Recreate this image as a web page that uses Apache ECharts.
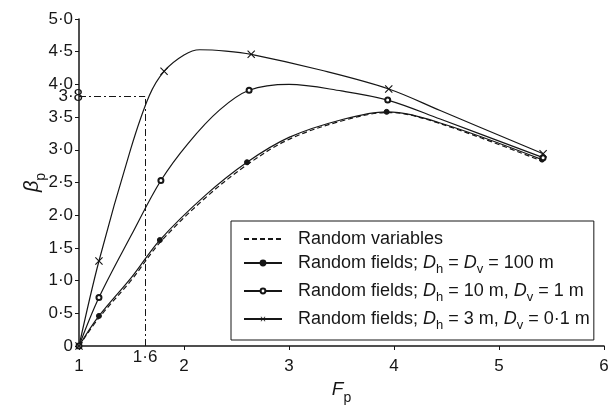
<!DOCTYPE html>
<html>
<head>
<meta charset="utf-8">
<script src="https://cdn.jsdelivr.net/npm/echarts@6/dist/echarts.min.js"></script>
<style>
  html, body { margin: 0; padding: 0; background: #fff; }
  #chart { width: 611px; height: 406px; }
</style>
</head>
<body>
<div id="chart"></div>
<script>
// curve points, [Fp, beta_p]
const randomVarsPts = [[1, 0], [1.19, 0.43], [1.5, 1.01], [1.77, 1.58], [2.2, 2.26], [2.6, 2.77], [3.0, 3.16], [3.5, 3.44], [3.95, 3.57], [4.44, 3.4], [5.42, 2.82]];
const rf100Pts = [[1, 0], [1.19, 0.46], [1.5, 1.05], [1.77, 1.62], [2.2, 2.3], [2.6, 2.81], [3.0, 3.19], [3.5, 3.46], [3.93, 3.58], [4.44, 3.41], [5.41, 2.85]];
const rf100Marks = [0, 1, 3, 5, 8, 10];
const rf10Pts = [[1, 0], [1.19, 0.74], [1.5, 1.7], [1.78, 2.53], [2.04, 3.1], [2.34, 3.61], [2.62, 3.91], [3.0, 4.0], [3.5, 3.9], [3.94, 3.76], [4.44, 3.47], [5.42, 2.88]];
const rf10Marks = [0, 1, 3, 6, 9, 11];
const rf3Pts = [[1, 0], [1.19, 1.3], [1.49, 3.0], [1.67, 3.83], [1.81, 4.2], [2.0, 4.45], [2.15, 4.53], [2.4, 4.51], [2.64, 4.46], [3.3, 4.22], [3.95, 3.93], [4.44, 3.6], [5.42, 2.94]];
const rf3Marks = [0, 1, 4, 8, 10, 12];

const seriesNames = [
  'Random variables',
  'Random fields; Dh = Dv = 100 m',
  'Random fields; Dh = 10 m, Dv = 1 m',
  'Random fields; Dh = 3 m, Dv = 0.1 m'
];
// rich text versions for the legend
const legendLabels = {
  'Random variables': 'Random variables',
  'Random fields; Dh = Dv = 100 m': 'Random fields; {i|D}{s|h} = {i|D}{s|v} = 100 m',
  'Random fields; Dh = 10 m, Dv = 1 m': 'Random fields; {i|D}{s|h} = 10 m, {i|D}{s|v} = 1 m',
  'Random fields; Dh = 3 m, Dv = 0.1 m': 'Random fields; {i|D}{s|h} = 3 m, {i|D}{s|v} = 0·1 m'
};

// dash-dot guide at Fp = 1.6, beta = 3.8
const guideFp = 1.63;
const guideBeta = 3.82;

const INK = '#161616';
const crossPath = 'path://M0,1L1,0L5,4L9,0L10,1L6,5L10,9L9,10L5,6L1,10L0,9L4,5Z';

function toData(pts, marks) {
  return pts.map((p, i) => marks.indexOf(i) >= 0 ? { value: p } : { value: p, symbol: 'none' });
}

function makeSeries(name, pts, marks, symbol, size, dashed) {
  return {
    name: name,
    type: 'line',
    smooth: 0.35,
    symbol: symbol,
    symbolSize: size,
    showSymbol: true,
    showAllSymbol: true,
    data: toData(pts, marks),
    lineStyle: { color: INK, width: 1.2, type: dashed ? [5, 3] : 'solid' },
    itemStyle: { color: INK, borderColor: INK, borderWidth: 1 },
    emphasis: { disabled: true },
    z: 3
  };
}

const chart = echarts.init(document.getElementById('chart'));

const series = [
  makeSeries(seriesNames[0], randomVarsPts, [], 'circle', 1, true),
  makeSeries(seriesNames[1], rf100Pts, rf100Marks, 'circle', 5, false),
  makeSeries(seriesNames[2], rf10Pts, rf10Marks, 'emptyCircle', 5, false),
  makeSeries(seriesNames[3], rf3Pts, rf3Marks, crossPath, 8, false)
];
series[0].itemStyle = { color: INK, opacity: 0 };
series[2].itemStyle = { color: INK, borderWidth: 0.8 };
series[3].itemStyle = { color: INK, borderWidth: 0 };
series[3].markLine = {
  silent: true,
  symbol: ['none', 'none'],
  animation: false,
  lineStyle: { color: INK, width: 1, type: [7, 3, 2, 3] },
  label: { show: true, position: 'start', color: INK, fontSize: 17, fontFamily: 'Liberation Sans' },
  data: [
    [{ coord: [1, guideBeta], label: { formatter: '3·8', distance: -4 } }, { coord: [guideFp, guideBeta] }],
    [{ coord: [guideFp, 0], label: { formatter: '1·6', distance: 3 } }, { coord: [guideFp, guideBeta] }]
  ]
};

const option = {
  backgroundColor: '#fff',
  animation: false,
  textStyle: { fontFamily: 'Liberation Sans', color: INK },
  grid: { left: 79, right: 7, top: 19, bottom: 60, outerBoundsMode: 'none' },
  legend: {
    data: seriesNames,
    orient: 'vertical',
    left: 231,
    top: 221,
    padding: [9, 4, 8, 12],
    itemGap: 6,
    itemWidth: 38,
    itemHeight: 6,
    borderColor: INK,
    borderWidth: 1,
    backgroundColor: '#fff',
    formatter: name => legendLabels[name],
    textStyle: {
      fontSize: 18,
      lineHeight: 18,
      color: INK,
      padding: [0, 0, 0, 11],
      rich: {
        i: { fontSize: 18, fontStyle: 'italic', lineHeight: 18 },
        s: { fontSize: 13, lineHeight: 18, verticalAlign: 'bottom', padding: [0, 0, -4, 0] }
      }
    }
  },
  xAxis: {
    type: 'value',
    min: 1,
    max: 6,
    interval: 1,
    name: '{i|F}{s|p}',
    nameLocation: 'middle',
    nameGap: 32,
    nameTextStyle: {
      rich: {
        i: { fontSize: 19, fontStyle: 'italic', color: INK },
        s: { fontSize: 14, color: INK, verticalAlign: 'bottom', padding: [0, 0, -6, 0] }
      }
    },
    axisLine: { lineStyle: { color: INK, width: 1.5 } },
    axisTick: { inside: false, length: 4, lineStyle: { color: INK } },
    axisLabel: { fontSize: 17, color: INK, margin: 12 },
    splitLine: { show: false }
  },
  yAxis: {
    type: 'value',
    min: 0,
    max: 5,
    interval: 0.5,
    name: '{b|β}{s|p}',
    nameLocation: 'middle',
    nameRotate: 90,
    nameGap: 37,
    nameMoveOverlap: false,
    nameTextStyle: {
      rich: {
        b: { fontSize: 20, fontStyle: 'italic', color: INK },
        s: { fontSize: 14, color: INK, verticalAlign: 'bottom', padding: [0, 0, -6, 0] }
      }
    },
    axisLine: { show: true, lineStyle: { color: INK, width: 1.5 } },
    axisTick: { show: true, inside: false, length: 4, lineStyle: { color: INK } },
    axisLabel: {
      fontSize: 17,
      color: INK,
      margin: 6,
      formatter: v => v === 0 ? '0' : v.toFixed(1).replace('.', '·')
    },
    splitLine: { show: false }
  },
  series: series
};

chart.setOption(option);
</script>
</body>
</html>
